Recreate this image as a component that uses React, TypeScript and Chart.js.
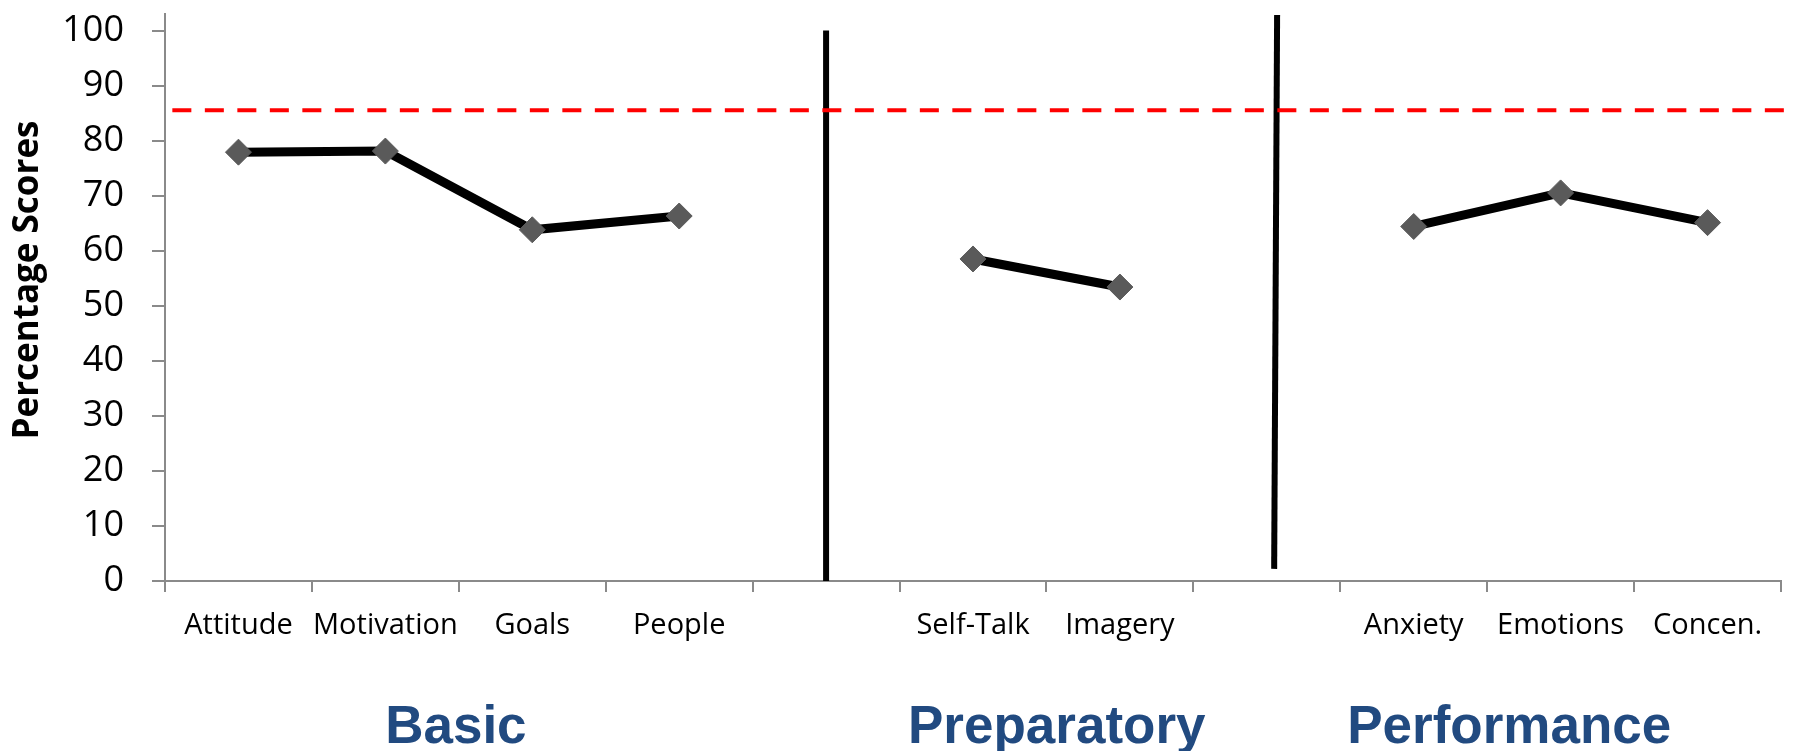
import React, { useEffect, useRef } from 'react';
import { Chart, registerables } from 'chart.js';

Chart.register(...registerables);

// Skill categories along the x axis (blank slots separate the three groups)
const categories = ['Attitude', 'Motivation', 'Goals', 'People', '', 'Self-Talk', 'Imagery', '', 'Anxiety', 'Emotions', 'Concen.'];
// Percentage score per category (null = group gap)
const scores: (number | null)[] = [77.9, 78.1, 63.8, 66.3, null, 58.5, 53.4, null, 64.4, 70.5, 65.1];

// Reference level shown as the red dashed line
const targetScore = 85.5;
const targetSpan = [0.05, 11.1];

// Vertical dividers between the groups, in category units
const dividerBasic = [
  { x: 4.5, y: 0 },
  { x: 4.5, y: 100 },
];
const dividerPreparatory = [
  { x: 7.57, y: 102.8 },
  { x: 7.55, y: 2.2 },
];

const yTickValues = [0, 10, 20, 30, 40, 50, 60, 70, 80, 90, 100];
const yMax = 103;

const groupNames = ['Basic', 'Preparatory', 'Performance'];
const groupAnchors = [1.98, 6.07, 9.15];
const yTitle = 'Percentage Scores';

const AXIS_GREY = '#8a8a8a';

const labelsPlugin = {
  id: 'groupLabels',
  afterDraw(chart: any) {
    const ctx = chart.ctx;
    const xs = chart.scales.xs;
    ctx.save();
    ctx.fillStyle = '#214A80';
    ctx.font = 'bold 53px "Liberation Sans", Arial, sans-serif';
    ctx.textAlign = 'center';
    ctx.textBaseline = 'alphabetic';
    groupNames.forEach((name, i) => {
      ctx.fillText(name, xs.getPixelForValue(groupAnchors[i]), 743);
    });
    ctx.restore();

    ctx.save();
    ctx.translate(28, 280);
    ctx.rotate(-Math.PI / 2);
    ctx.fillStyle = '#000';
    ctx.font = 'bold 35px "Open Sans", sans-serif';
    ctx.textAlign = 'center';
    ctx.textBaseline = 'middle';
    ctx.fillText(yTitle, 0, 0);
    ctx.restore();
  },
};

export default function App() {
  const canvasRef = useRef<HTMLCanvasElement | null>(null);

  useEffect(() => {
    document.body.style.margin = '0';
    const canvas = canvasRef.current;
    if (!canvas) return;

    const chart = new Chart(canvas, {
      type: 'line',
      data: {
        labels: categories,
        datasets: [
          {
            label: 'Scores',
            data: scores,
            xAxisID: 'x',
            yAxisID: 'y',
            borderColor: '#000',
            borderWidth: 9,
            spanGaps: false,
            pointStyle: 'rectRot',
            pointRadius: 13,
            pointBackgroundColor: '#5a5a5a',
            pointBorderColor: '#5a5a5a',
            pointBorderWidth: 1,
            tension: 0,
          },
          {
            label: 'Target',
            data: targetSpan.map((x) => ({ x, y: targetScore })),
            xAxisID: 'xs',
            yAxisID: 'y',
            borderColor: '#ff0000',
            borderWidth: 4,
            borderDash: [19, 13.5],
            pointRadius: 0,
            clip: false,
          },
          {
            label: 'Divider 1',
            data: dividerBasic,
            xAxisID: 'xs',
            yAxisID: 'y',
            borderColor: '#000',
            borderWidth: 6,
            pointRadius: 0,
            clip: false,
          },
          {
            label: 'Divider 2',
            data: dividerPreparatory,
            xAxisID: 'xs',
            yAxisID: 'y',
            borderColor: '#000',
            borderWidth: 6,
            pointRadius: 0,
            clip: false,
          },
        ] as any,
      },
      options: {
        animation: false,
        responsive: false,
        maintainAspectRatio: false,
        layout: { padding: { top: 10, right: 15, bottom: 0, left: 0 } },
        plugins: {
          legend: { display: false },
          tooltip: { enabled: false },
        },
        scales: {
          x: {
            type: 'category',
            offset: true,
            grid: {
              offset: true,
              drawOnChartArea: false,
              drawTicks: true,
              tickLength: 11,
              color: AXIS_GREY,
              lineWidth: 2,
            },
            border: { display: true, color: AXIS_GREY, width: 2 },
            ticks: {
              color: '#000',
              font: { family: '"Open Sans", sans-serif', size: 29 },
              padding: 16,
              maxRotation: 0,
              autoSkip: false,
            },
            afterFit(scale: any) {
              scale.height = 170;
              scale.paddingLeft = 0;
              scale.paddingRight = 0;
            },
          },
          xs: {
            type: 'linear',
            display: false,
            min: 0,
            max: categories.length,
          },
          y: {
            type: 'linear',
            min: 0,
            max: yMax,
            ticks: {
              stepSize: 10,
              color: '#000',
              font: { family: '"Open Sans", sans-serif', size: 36 },
              padding: 28,
            },
            afterBuildTicks(scale: any) {
              scale.ticks = yTickValues.map((value) => ({ value }));
            },
            grid: {
              drawOnChartArea: false,
              drawTicks: true,
              tickLength: 13,
              color: AXIS_GREY,
              lineWidth: 2,
            },
            border: { display: true, color: AXIS_GREY, width: 2 },
            afterFit(scale: any) {
              scale.width = 165;
              scale.paddingTop = 0;
              scale.paddingBottom = 0;
            },
          },
        },
      } as any,
      plugins: [labelsPlugin],
    });

    return () => chart.destroy();
  }, []);

  return (
    <div style={{ width: 1796, height: 751, background: '#fff' }}>
      <canvas ref={canvasRef} width={1796} height={751} />
    </div>
  );
}
